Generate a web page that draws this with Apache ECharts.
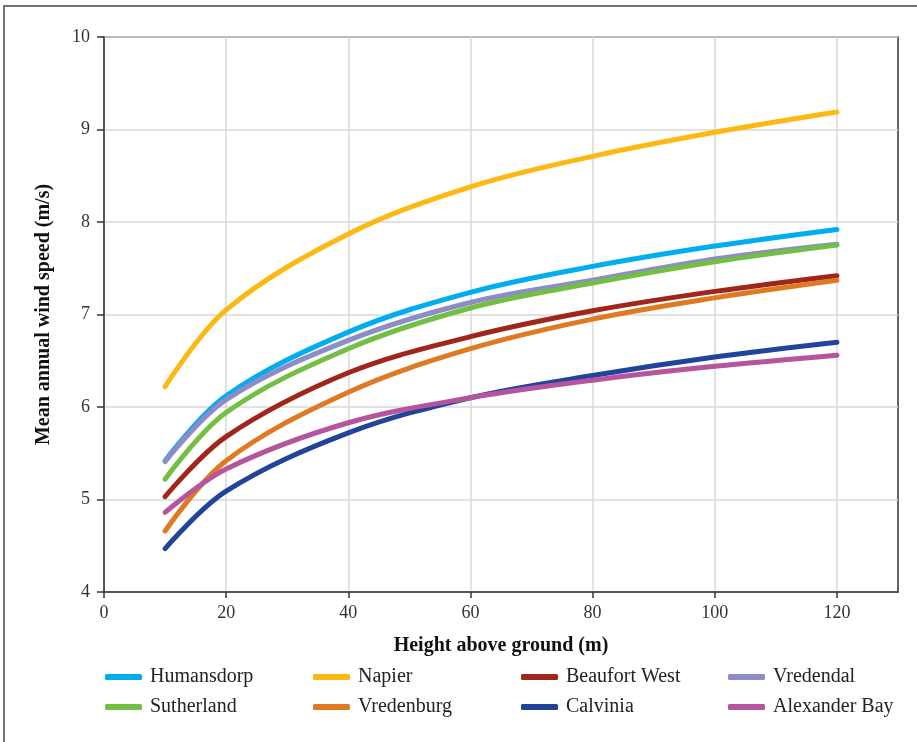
<!DOCTYPE html>
<html lang="en">
<head>
    <meta charset="UTF-8">
    <title>Mean annual wind speed</title>
    <style>
        html, body { margin: 0; padding: 0; background: #fff; }
        #show_div { width: 917px; height: 742px; }
    </style>
</head>
<body>
<div id="show_div"></div>
<script src="https://cdn.jsdelivr.net/npm/echarts@6/dist/echarts.min.js"></script>
<script>
    // 高度 (m)
    var heights = [10, 20, 40, 60, 80, 100, 120];
    var x_ticks = [0, 20, 40, 60, 80, 100, 120];
    var y_ticks = [4, 5, 6, 7, 8, 9, 10];

    // 各站点风速 (m/s)
    var humansdorp = [5.42, 6.12, 6.81, 7.24, 7.52, 7.74, 7.92];
    var napier = [6.22, 7.05, 7.87, 8.38, 8.71, 8.97, 9.19];
    var beaufort_west = [5.03, 5.68, 6.37, 6.76, 7.04, 7.25, 7.42];
    var vredendal = [5.41, 6.08, 6.72, 7.13, 7.37, 7.60, 7.76];
    var sutherland = [5.22, 5.94, 6.63, 7.07, 7.34, 7.57, 7.75];
    var vredenburg = [4.66, 5.42, 6.16, 6.63, 6.95, 7.18, 7.37];
    var calvinia = [4.47, 5.09, 5.72, 6.10, 6.34, 6.54, 6.70];
    var alexander_bay = [4.86, 5.33, 5.83, 6.10, 6.29, 6.44, 6.56];

    var station_names = ['Humansdorp', 'Napier', 'Beaufort West', 'Vredendal',
        'Sutherland', 'Vredenburg', 'Calvinia', 'Alexander Bay'];
    var station_values = [humansdorp, napier, beaufort_west, vredendal,
        sutherland, vredenburg, calvinia, alexander_bay];
    var station_colors = ['#00aeef', '#fdb913', '#a0261b', '#8c8cc8',
        '#72bf44', '#e07a22', '#22439a', '#b5559d'];

    var font = "'Liberation Serif', serif";

    function pairs(values) {
        var out = [];
        for (var i = 0; i < heights.length; i++) {
            out.push([heights[i], values[i]]);
        }
        return out;
    }

    function make_legend(names, left) {
        return {
            data: names,
            orient: 'vertical',
            left: left,
            top: 667,
            padding: 0,
            itemGap: 10,
            itemWidth: 37,
            itemHeight: 6,
            icon: 'roundRect',
            textStyle: {fontFamily: font, fontSize: 20, color: '#222', padding: [0, 0, 0, 3]}
        };
    }

    var series_list = [];
    for (var i = 0; i < station_names.length; i++) {
        series_list.push({
            name: station_names[i],
            type: 'line',
            data: pairs(station_values[i]),
            smooth: 0.35,
            showSymbol: false,
            symbol: 'none',
            color: station_colors[i],
            lineStyle: {width: 5, cap: 'round', join: 'round', color: station_colors[i]}
        });
    }

    var myChart = echarts.init(document.getElementById('show_div'));

    var option = {
        animation: false,
        backgroundColor: '#fff',
        graphic: [{
            type: 'rect',
            shape: {x: 4, y: 6, width: 960, height: 800},
            style: {fill: 'none', stroke: '#444', lineWidth: 1.5},
            silent: true
        }],
        grid: {
            left: 104, top: 37, right: 19, bottom: 150,
            show: true, borderColor: '#333', borderWidth: 1.5
        },
        legend: [
            make_legend(['Humansdorp', 'Sutherland'], 105),
            make_legend(['Napier', 'Vredenburg'], 313),
            make_legend(['Beaufort West', 'Calvinia'], 521),
            make_legend(['Vredendal', 'Alexander Bay'], 728)
        ],
        xAxis: {
            type: 'value',
            min: 0,
            max: 130,
            interval: 20,
            name: 'Height above ground (m)',
            nameLocation: 'middle',
            nameGap: 44,
            nameTextStyle: {fontFamily: font, fontSize: 20, fontWeight: 'bold', color: '#111'},
            axisLine: {show: true, onZero: false, lineStyle: {color: '#333', width: 1.5}},
            axisTick: {show: true, length: 6, customValues: x_ticks, lineStyle: {color: '#333', width: 1.5}},
            axisLabel: {customValues: x_ticks, margin: 12, fontFamily: font, fontSize: 18, color: '#333'},
            splitLine: {show: true, lineStyle: {color: '#d9d9d9', width: 1.5}}
        },
        yAxis: {
            type: 'value',
            min: 4,
            max: 10,
            interval: 1,
            name: 'Mean annual wind speed (m/s)',
            nameLocation: 'middle',
            nameGap: 50,
            nameTextStyle: {fontFamily: font, fontSize: 20, fontWeight: 'bold', color: '#111'},
            axisLine: {show: true, lineStyle: {color: '#333', width: 1.5}},
            axisTick: {show: true, length: 7, customValues: y_ticks, lineStyle: {color: '#333', width: 1.5}},
            axisLabel: {customValues: y_ticks, margin: 14, fontFamily: font, fontSize: 18, color: '#333'},
            splitLine: {show: true, lineStyle: {color: '#d9d9d9', width: 1.5}}
        },
        series: series_list
    };

    myChart.setOption(option);
</script>
</body>
</html>
